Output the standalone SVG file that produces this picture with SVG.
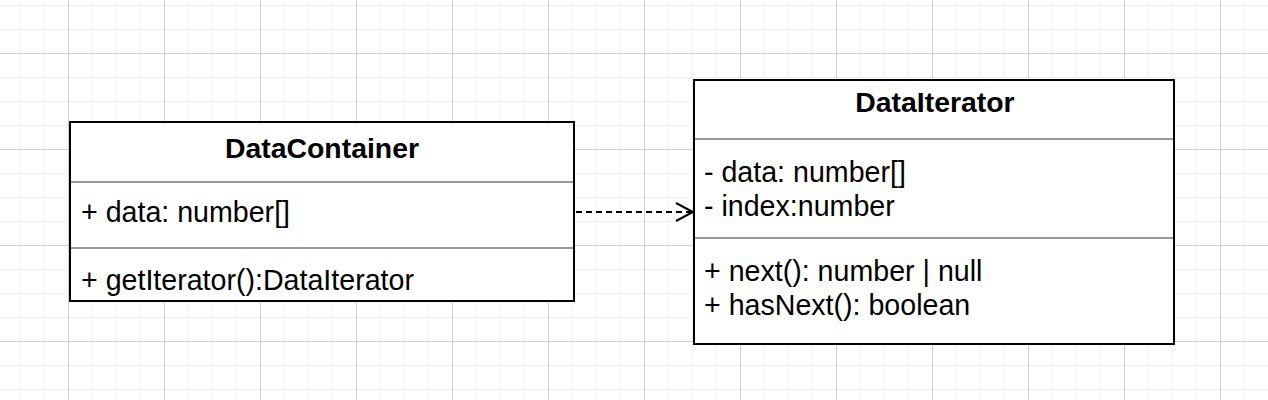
<svg xmlns="http://www.w3.org/2000/svg" width="1268" height="400" viewBox="0 0 1268 400">
  <defs>
    <pattern id="grid" patternUnits="userSpaceOnUse" x="20" y="5" width="96" height="96">
      <path d="M0.5 0V96M24.5 0V96M72.5 0V96M0 0.5H96M0 24.5H96M0 72.5H96" stroke="#f0f0f0" stroke-width="1" fill="none"/>
      <path d="M48.5 0V96M0 48.5H96" stroke="#d0d0d0" stroke-width="1" fill="none"/>
    </pattern>
  </defs>
  <style>
    .box{fill:#fff;stroke:#000;stroke-width:2}
    .sep{stroke:#999;stroke-width:2}
    .title{font-family:"Liberation Sans",Arial,sans-serif;font-size:28.4px;font-weight:bold;fill:#000}
    .txt{font-family:"Liberation Sans",Arial,sans-serif;font-size:28.6px;fill:#000}
    .conn{fill:none;stroke:#000;stroke-width:2;stroke-dasharray:6 4}
  </style>
  <rect width="1268" height="400" fill="#fff"/>
  <rect width="1268" height="400" fill="url(#grid)"/>
  <g id="DataContainer">
    <rect class="box" x="70" y="122" width="504" height="179"/>
    <line class="sep" x1="71" y1="182" x2="573" y2="182"/>
    <line class="sep" x1="71" y1="248" x2="573" y2="248"/>
    <text class="title" x="322" y="158" text-anchor="middle">DataContainer</text>
    <text class="txt" x="81" y="222">+ data: number[]</text>
    <text class="txt" x="81" y="290">+ getIterator():DataIterator</text>
  </g>
  <g id="DataIterator">
    <rect class="box" x="694" y="80" width="480" height="264"/>
    <line class="sep" x1="695" y1="139" x2="1173" y2="139"/>
    <line class="sep" x1="695" y1="238" x2="1173" y2="238"/>
    <text class="title" x="935" y="112" text-anchor="middle">DataIterator</text>
    <text class="txt" x="704" y="182">- data: number[]</text>
    <text class="txt" x="704" y="216">- index:number</text>
    <text class="txt" x="704" y="281">+ next(): number | null</text>
    <text class="txt" x="704" y="315">+ hasNext(): boolean</text>
  </g>
  <g id="connectors">
    <line class="conn" x1="576" y1="212" x2="692" y2="212"/>
    <polyline points="676,203 693,212 676,221" fill="none" stroke="#000" stroke-width="2"/>
  </g>
</svg>
